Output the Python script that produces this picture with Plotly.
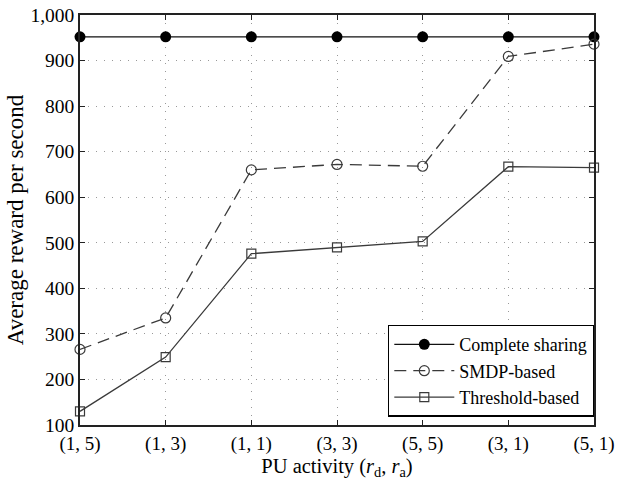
import plotly.graph_objects as go

categories = ["(1, 5)", "(1, 3)", "(1, 1)", "(3, 3)", "(5, 5)", "(3, 1)", "(5, 1)"]
complete_sharing = [952, 952, 952, 952, 952, 952, 952]
smdp_based = [266, 335, 660, 672, 668, 909, 936]
threshold_based = [130, 249, 476, 490, 503, 667, 665]
y_ticks = [100, 200, 300, 400, 500, 600, 700, 800, 900, 1000]

xs = list(range(len(categories)))
line_col = "#3a3a3a"

fig = go.Figure()
fig.add_trace(go.Scatter(
    x=xs, y=complete_sharing, name="Complete sharing", mode="lines+markers",
    line=dict(color="#111111", width=1.3),
    marker=dict(symbol="circle", size=11, color="black"),
    cliponaxis=False))
fig.add_trace(go.Scatter(
    x=xs, y=smdp_based, name="SMDP-based", mode="lines+markers",
    line=dict(color=line_col, width=1.3, dash="12px,7px"),
    marker=dict(symbol="circle-open", size=10, color=line_col, line=dict(width=1.2)),
    cliponaxis=False))
fig.add_trace(go.Scatter(
    x=xs, y=threshold_based, name="Threshold-based", mode="lines+markers",
    line=dict(color=line_col, width=1.3),
    marker=dict(symbol="square-open", size=9, color=line_col, line=dict(width=1.2)),
    cliponaxis=False))

fam = "Liberation Serif, Times New Roman, serif"
tick_font = dict(family=fam, size=19.5, color="black")
fig.update_layout(
    width=627, height=481,
    margin=dict(l=80, r=30, t=15, b=40),
    paper_bgcolor="white", plot_bgcolor="white",
    font=tick_font,
    showlegend=True,
    legend=dict(x=1.0, y=0.02, xanchor="right", yanchor="bottom",
                bordercolor="black", borderwidth=1.3, bgcolor="white",
                font=dict(family=fam, size=18, color="black"),
                tracegroupgap=0, itemwidth=60),
)
fig.update_xaxes(
    range=[0, 6], tickmode="array", tickvals=xs, ticktext=categories,
    showline=True, linecolor="#222", linewidth=1.5, mirror="ticks",
    ticks="inside", ticklen=5, tickcolor="#222",
    showgrid=True, gridcolor="#999999", griddash="1px,7px", gridwidth=1,
    zeroline=False, tickfont=dict(family=fam, size=19, color="black"),
    automargin=True, ticklabelstandoff=0,
    title=dict(text="PU activity (<i>r</i><sub>d</sub>, <i>r</i><sub>a</sub>)",
               font=dict(family=fam, size=20.5, color="black"), standoff=0),
)
fig.update_yaxes(
    range=[100, 1000], tickmode="array", tickvals=y_ticks, tickformat=",",
    showline=True, linecolor="#222", linewidth=1.5, mirror="ticks",
    ticks="inside", ticklen=5, tickcolor="#222",
    showgrid=True, gridcolor="#999999", griddash="1px,7px", gridwidth=1,
    zeroline=False, tickfont=tick_font, automargin=False, ticklabelstandoff=0,
    title=dict(text="Average reward per second",
               font=dict(family=fam, size=23, color="black"), standoff=0),
)
fig.write_html("out.html")
